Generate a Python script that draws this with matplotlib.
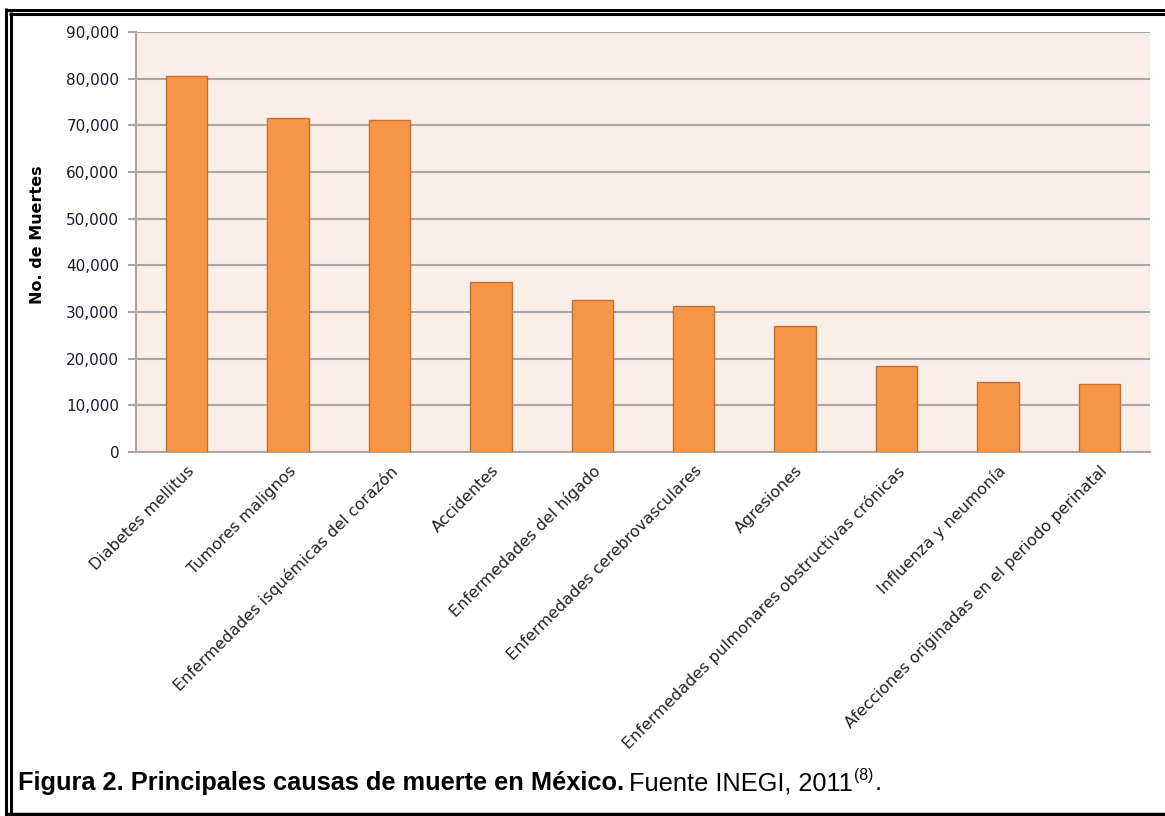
import matplotlib
matplotlib.use("Agg")
import matplotlib.pyplot as plt
from matplotlib.lines import Line2D
from matplotlib.ticker import FuncFormatter

categories = [
    "Diabetes mellitus",
    "Tumores malignos",
    "Enfermedades isquémicas del corazón",
    "Accidentes",
    "Enfermedades del hígado",
    "Enfermedades cerebrovasculares",
    "Agresiones",
    "Enfermedades pulmonares obstructivas crónicas",
    "Influenza y neumonía",
    "Afecciones originadas en el periodo perinatal",
]
deaths = [80600, 71600, 71100, 36400, 32600, 31300, 27000, 18400, 15000, 14600]
y_ticks = list(range(0, 90001, 10000))

W, H = 1165, 816
fig = plt.figure(figsize=(W / 100, H / 100), dpi=100)
fig.patch.set_facecolor("white")

cap_font = ["Liberation Sans", "DejaVu Sans"]

ax = fig.add_axes([136 / W, 1 - 452 / H, (1150 - 136) / W, (452 - 32) / H])
ax.set_facecolor("#FBEEE9")
x = list(range(len(categories)))
ax.bar(x, deaths, width=0.41, color="#F79646", edgecolor="#C4702F", linewidth=1.0, zorder=3)
ax.set_xlim(-0.5, len(categories) - 0.5)
ax.set_ylim(0, 90000)
ax.set_yticks(y_ticks)
ax.yaxis.set_major_formatter(FuncFormatter(lambda v, p: f"{int(v):,}"))
ax.grid(axis="y", color="#A6A6A6", linewidth=1.5, zorder=1)
ax.set_axisbelow(True)
for s in ["top", "right"]:
    ax.spines[s].set_visible(False)
for s in ["left", "bottom"]:
    ax.spines[s].set_color("#A6A6A6")
    ax.spines[s].set_linewidth(1.5)
ax.tick_params(axis="y", length=6, width=1.5, color="#A6A6A6", labelsize=11, labelcolor="#1a1a2a", pad=6)
ax.tick_params(axis="x", length=0, pad=8)
ax.set_xticks(x)
ax.set_xticklabels(categories, rotation=45, ha="right", rotation_mode="anchor",
                   fontsize=11.5, color="#222222")
ax.set_ylabel("No. de Muertes", fontsize=11.5, fontweight="bold")
ax.yaxis.set_label_coords((45 - 136) / 1014, (452 - 235) / 420)

# Frame (double line on top/left, single bottom)
def hline(y, x0, x1, lw):
    fig.add_artist(Line2D([x0 / W, x1 / W], [1 - y / H, 1 - y / H], color="black", lw=lw,
                          transform=fig.transFigure, solid_capstyle="butt"))

def vline(xp, y0, y1, lw):
    fig.add_artist(Line2D([xp / W, xp / W], [1 - y0 / H, 1 - y1 / H], color="black", lw=lw,
                          transform=fig.transFigure, solid_capstyle="butt"))

hline(9.5, 5, W, 2.2)
hline(13.5, 9, W, 2.2)
vline(6, 8, 816, 2.2)
vline(10.5, 12, 816, 2.2)
hline(813.5, 5, W, 2.5)

# Caption
r = fig.canvas.get_renderer()
fsz = 17
t1 = fig.text(18 / W, 1 - 790 / H, "Figura 2. Principales causas de muerte en México.",
              fontsize=fsz, fontweight="bold", family=cap_font, va="baseline")
fig.canvas.draw()
bb = t1.get_window_extent(r)
fsz = fsz * 607 / bb.width
t1.set_fontsize(fsz)
fig.canvas.draw()
bb = t1.get_window_extent(r)
t2 = fig.text((bb.x1 + 5) / W, 1 - 790 / H, "Fuente INEGI, 2011",
              fontsize=fsz, family=cap_font, va="baseline")
fig.canvas.draw()
bb2 = t2.get_window_extent(r)
t3 = fig.text((bb2.x1 + 1) / W, 1 - 780 / H, "(8)", fontsize=fsz * 0.62, family=cap_font, va="baseline")
fig.canvas.draw()
bb3 = t3.get_window_extent(r)
fig.text((bb3.x1 + 1) / W, 1 - 790 / H, ".", fontsize=fsz, family=cap_font, va="baseline")

fig.savefig("out.png", dpi=100, facecolor="white")
